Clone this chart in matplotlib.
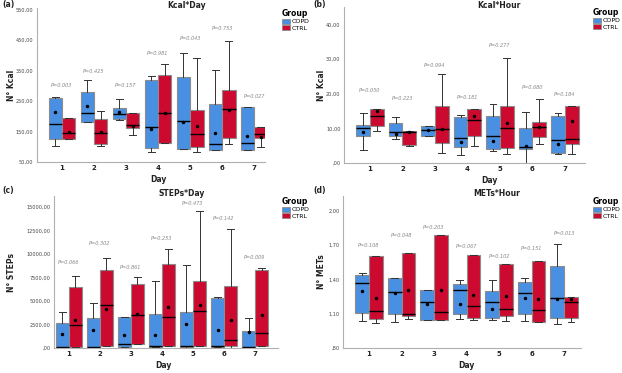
import matplotlib
matplotlib.use("Agg")
from matplotlib import pyplot as plt
from matplotlib.patches import Patch

days = [1, 2, 3, 4, 5, 6, 7]
groups = ["COPD", "CTRL"]
colors = {"COPD": "#4a90e2", "CTRL": "#cc0a2f"}

# per day: (whisker low, q1, median, q3, whisker high, mean)
kcal_day_copd = [(101, 125, 175, 260, 262, 213), (181, 181, 211, 281, 319, 235),
                 (187, 191, 208, 227, 257, 214), (84, 95, 166, 318, 331, 159),
                 (93, 93, 185, 328, 408, 180), (90, 90, 109, 240, 352, 145),
                 (90, 90, 113, 230, 230, 136)]
kcal_day_ctrl = [(125, 125, 145, 193, 193, 150), (104, 109, 145, 191, 216, 147),
                 (140, 163, 170, 210, 210, 169), (111, 111, 210, 337, 372, 211),
                 (84, 98, 143, 220, 392, 167), (108, 129, 225, 286, 447, 221),
                 (98, 128, 143, 166, 166, 133)]
kcal_day_p = ["P=0.003", "P=0.425", "P=0.157", "P=0.981", "P=0.043", "P=0.753", "P=0.027"]
kcal_day_p_y = [300, 349, 300, 405, 456, 487, 264]

kcal_hour_copd = [(3.7, 7.7, 10.0, 10.9, 14.5, 8.8), (6.8, 7.7, 8.8, 11.6, 13.4, 8.5),
                  (7.7, 7.9, 9.5, 10.75, 10.75, 9.5), (2.4, 4.6, 7.1, 13.3, 13.8, 6.1),
                  (3.6, 3.9, 7.7, 13.6, 16.9, 6.3), (0.0, 3.9, 4.6, 10.1, 14.7, 4.9),
                  (2.5, 2.9, 6.6, 13.6, 14.5, 5.6)]
kcal_hour_ctrl = [(9.1, 10.75, 13.6, 15.7, 15.7, 15.0), (4.8, 5.3, 8.8, 9.2, 9.2, 8.8),
                  (2.9, 5.8, 9.7, 16.4, 25.8, 9.7), (4.8, 7.8, 12.4, 15.5, 15.5, 13.7),
                  (2.7, 4.2, 10.1, 16.3, 30.3, 11.4), (5.4, 7.5, 10.3, 11.8, 18.6, 10.5),
                  (2.7, 5.5, 6.8, 16.3, 16.3, 12.0)]
kcal_hour_p = ["P=0.050", "P=0.223", "P=0.994", "P=0.181", "P=0.277", "P=0.680", "P=0.184"]
kcal_hour_p_y = [20.8, 18.7, 28.2, 19.0, 33.9, 21.7, 19.9]

steps_day_copd = [(60, 70, 140, 2695, 3794, 1489), (60, 70, 140, 3227, 4787, 1879),
                  (60, 70, 390, 3298, 3298, 1383), (60, 70, 177, 3581, 7163, 1347),
                  (40, 106, 177, 3794, 8830, 2589), (60, 70, 177, 5319, 5425, 1950),
                  (60, 70, 142, 1808, 3156, 1667)]
steps_day_ctrl = [(142, 142, 2411, 6454, 7695, 2943), (248, 248, 4610, 8262, 9610, 4113),
                  (390, 390, 3510, 6773, 7553, 3617), (213, 213, 3333, 8900, 10603, 4362),
                  (177, 177, 3972, 7127, 14610, 4539), (35, 177, 816, 6631, 12731, 3014),
                  (213, 213, 1631, 8333, 8546, 3510)]
steps_day_p = ["P=0.066", "P=0.302", "P=0.861", "P=0.253", "P=0.473", "P=0.142", "P=0.009"]
steps_day_p_y = [9113, 11099, 8546, 11631, 15390, 13758, 9645]

mets_hour_copd = [(1.039, 1.106, 1.368, 1.438, 1.455, 1.301), (1.030, 1.097, 1.289, 1.415, 1.415, 1.281),
                  (1.048, 1.048, 1.202, 1.310, 1.310, 1.184), (1.050, 1.097, 1.307, 1.356, 1.397, 1.184),
                  (1.045, 1.062, 1.202, 1.301, 1.391, 1.141), (1.036, 1.094, 1.278, 1.374, 1.415, 1.234),
                  (1.007, 1.065, 1.234, 1.519, 1.709, 1.228)]
mets_hour_ctrl = [(1.016, 1.053, 1.120, 1.607, 1.607, 1.234), (1.053, 1.083, 1.100, 1.627, 1.627, 1.307),
                  (1.045, 1.045, 1.112, 1.790, 1.790, 1.310), (1.048, 1.059, 1.170, 1.613, 1.613, 1.266),
                  (1.036, 1.077, 1.138, 1.534, 1.534, 1.251), (1.027, 1.027, 1.132, 1.563, 1.563, 1.228),
                  (1.027, 1.062, 1.202, 1.243, 1.243, 1.225)]
mets_hour_p = ["P=0.108", "P=0.048", "P=0.203", "P=0.067", "P=0.102", "P=0.151", "P=0.013"]
mets_hour_p_y = [1.694, 1.782, 1.854, 1.685, 1.598, 1.671, 1.802]

W, H = 622, 373


def fmt(v):
    s = f"{v:.2f}".replace(".", ",")
    return s[1:] if s.startswith("0,") else s


def to_stats(rows):
    return [dict(whislo=r[0], q1=r[1], med=r[2], q3=r[3], whishi=r[4], mean=r[5]) for r in rows]


def draw_panel(fig, box, xlim, ylim, yticks, copd, ctrl, pvals, p_y,
               letter, title, ylabel, title_x, ylab_x, xlab_x, leg_x):
    left, top, right, bottom = box
    ax = fig.add_axes([left / W, 1 - bottom / H, (right - left) / W, (bottom - top) / H])
    width = 0.42
    for data, off, g in [(copd, -0.21, "COPD"), (ctrl, 0.21, "CTRL")]:
        ax.bxp(to_stats(data), positions=[d + off for d in days], widths=width,
               patch_artist=True, showmeans=True, showfliers=False,
               boxprops=dict(facecolor=colors[g], edgecolor="#8c8c8c", linewidth=0.8),
               medianprops=dict(color="black", linewidth=1.0),
               whiskerprops=dict(color="#333333", linewidth=0.7),
               capprops=dict(color="#333333", linewidth=0.7),
               capwidths=width * 0.5,
               meanprops=dict(marker="o", markersize=1.5, markerfacecolor="black",
                              markeredgecolor="black"))
    for d, p, y in zip(days, pvals, p_y):
        ax.text(d, y, p, ha="center", va="center", fontsize=3.6, style="italic", color="#8a8a8a")

    ax.set_xlim(*xlim)
    ax.set_ylim(*ylim)
    ax.set_xticks(days)
    ax.set_xticklabels([str(d) for d in days], fontsize=5, fontweight="bold", color="#222222")
    ax.set_yticks(yticks)
    ax.set_yticklabels([fmt(v) for v in yticks], fontsize=3.6, color="#444444")
    ax.tick_params(length=0, pad=2.5)
    for s in ["top", "right"]:
        ax.spines[s].set_visible(False)
    for s in ["left", "bottom"]:
        ax.spines[s].set_color("#b0b0b0")
        ax.spines[s].set_linewidth(0.8)

    fig.text(letter[1] / W, 1 - letter[2] / H, letter[0], fontsize=5.5, fontweight="bold",
             ha="left", va="center", color="#222222")
    fig.text(title_x / W, 1 - (top - 2) / H, title, fontsize=5.5, fontweight="bold",
             ha="center", va="center", color="#222222")
    fig.text(ylab_x / W, 1 - (top + bottom) / 2 / H, ylabel, fontsize=5.5, fontweight="bold",
             rotation=90, ha="center", va="center", color="#222222")
    fig.text(xlab_x / W, 1 - (bottom + 17.5) / H, "Day", fontsize=5.5, fontweight="bold",
             ha="center", va="center", color="#222222")

    handles = [Patch(facecolor=colors[g], edgecolor="#8c8c8c", linewidth=0.6, label=g) for g in groups]
    fig.legend(handles=handles, title="Group", loc="upper left",
               bbox_to_anchor=(leg_x / W, 1 - (top + 1) / H), frameon=False,
               fontsize=4.5, title_fontproperties=dict(size=5.5, weight="bold"),
               handlelength=1.3, handleheight=0.9, handletextpad=0.3,
               labelspacing=0.1, borderpad=0.0, borderaxespad=0.0, alignment="left")
    return ax


fig = plt.figure(figsize=(W / 100, H / 100), dpi=100)

draw_panel(fig, (37, 8, 265, 162), (0.22, 7.34), (50, 556), [50, 150, 250, 350, 450, 550],
           kcal_day_copd, kcal_day_ctrl, kcal_day_p, kcal_day_p_y,
           ("(a)", 2, 5), "Kcal*Day", "N° Kcal", 187, 11, 158, 282)
draw_panel(fig, (344, 7, 585, 163), (0.2, 7.62), (0, 45), [0, 10, 20, 30, 40],
           kcal_hour_copd, kcal_hour_ctrl, kcal_hour_p, kcal_hour_p_y,
           ("(b)", 313, 5), "Kcal*Hour", "N° Kcal", 499, 322, 489, 593)
draw_panel(fig, (54, 196, 278, 348), (0.52, 7.74), (0, 16200), [0, 2500, 5000, 7500, 10000, 12500, 15000],
           steps_day_copd, steps_day_ctrl, steps_day_p, steps_day_p_y,
           ("(c)", 2, 191), "STEPs*Day", "N° STEPs", 182, 11, 163, 282)
draw_panel(fig, (343, 196, 581, 348), (0.2, 7.52), (0.8, 2.13), [0.8, 1.1, 1.4, 1.7, 2.0],
           mets_hour_copd, mets_hour_ctrl, mets_hour_p, mets_hour_p_y,
           ("(d)", 313, 191), "METs*Hour", "N° METs", 497, 322, 466, 593)

fig.savefig("out.png", dpi=100)
